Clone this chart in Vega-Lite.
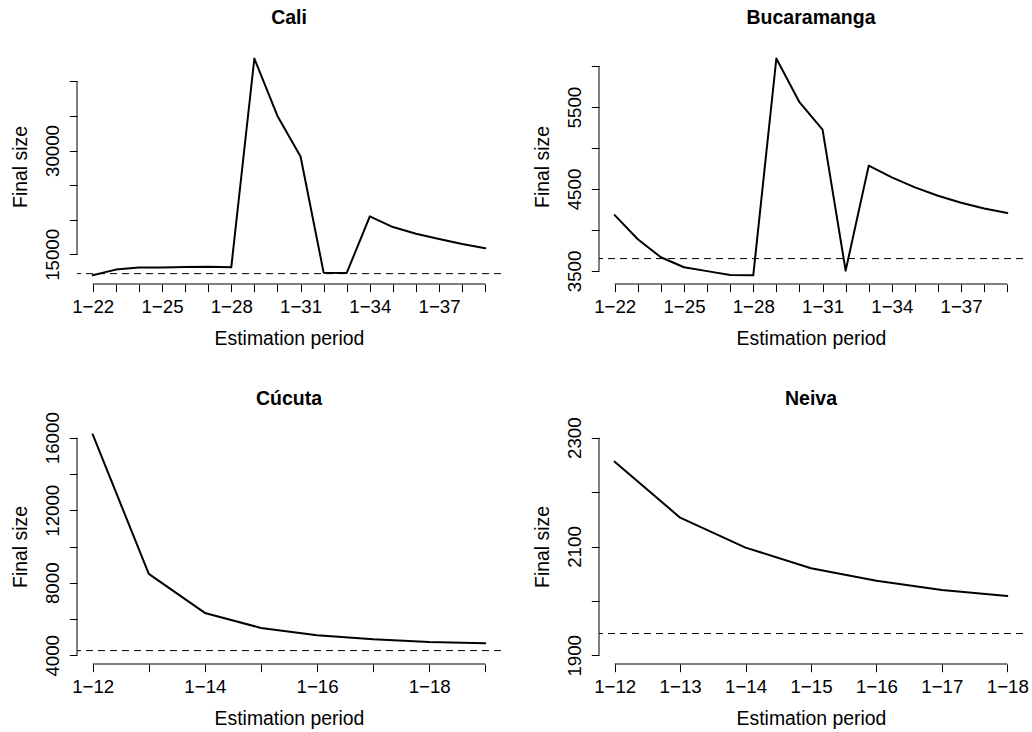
{
  "$schema": "https://vega.github.io/schema/vega-lite/v6.json",
  "background": "white",
  "padding": {"left": 10, "top": 7, "right": 5, "bottom": 5},
  "datasets": {
    "fits": [
      {"city": "Cali", "period": 22, "size": 11970},
      {"city": "Cali", "period": 23, "size": 12790},
      {"city": "Cali", "period": 24, "size": 13080},
      {"city": "Cali", "period": 25, "size": 13080},
      {"city": "Cali", "period": 26, "size": 13170},
      {"city": "Cali", "period": 27, "size": 13220},
      {"city": "Cali", "period": 28, "size": 13125},
      {"city": "Cali", "period": 29, "size": 43300},
      {"city": "Cali", "period": 30, "size": 35000},
      {"city": "Cali", "period": 31, "size": 29135},
      {"city": "Cali", "period": 32, "size": 12355},
      {"city": "Cali", "period": 33, "size": 12310},
      {"city": "Cali", "period": 34, "size": 20480},
      {"city": "Cali", "period": 35, "size": 18940},
      {"city": "Cali", "period": 36, "size": 17980},
      {"city": "Cali", "period": 37, "size": 17210},
      {"city": "Cali", "period": 38, "size": 16490},
      {"city": "Cali", "period": 39, "size": 15865},
      {"city": "Bucaramanga", "period": 22, "size": 4181},
      {"city": "Bucaramanga", "period": 23, "size": 3887},
      {"city": "Bucaramanga", "period": 24, "size": 3667},
      {"city": "Bucaramanga", "period": 25, "size": 3545},
      {"city": "Bucaramanga", "period": 26, "size": 3498},
      {"city": "Bucaramanga", "period": 27, "size": 3451},
      {"city": "Bucaramanga", "period": 28, "size": 3447},
      {"city": "Bucaramanga", "period": 29, "size": 6092},
      {"city": "Bucaramanga", "period": 30, "size": 5559},
      {"city": "Bucaramanga", "period": 31, "size": 5225},
      {"city": "Bucaramanga", "period": 32, "size": 3504},
      {"city": "Bucaramanga", "period": 33, "size": 4785},
      {"city": "Bucaramanga", "period": 34, "size": 4642},
      {"city": "Bucaramanga", "period": 35, "size": 4520},
      {"city": "Bucaramanga", "period": 36, "size": 4418},
      {"city": "Bucaramanga", "period": 37, "size": 4332},
      {"city": "Bucaramanga", "period": 38, "size": 4263},
      {"city": "Bucaramanga", "period": 39, "size": 4206},
      {"city": "Cúcuta", "period": 12, "size": 16181},
      {"city": "Cúcuta", "period": 13, "size": 8490},
      {"city": "Cúcuta", "period": 14, "size": 6337},
      {"city": "Cúcuta", "period": 15, "size": 5509},
      {"city": "Cúcuta", "period": 16, "size": 5104},
      {"city": "Cúcuta", "period": 17, "size": 4883},
      {"city": "Cúcuta", "period": 18, "size": 4736},
      {"city": "Cúcuta", "period": 19, "size": 4662},
      {"city": "Neiva", "period": 12, "size": 2256},
      {"city": "Neiva", "period": 13, "size": 2153},
      {"city": "Neiva", "period": 14, "size": 2098},
      {"city": "Neiva", "period": 15, "size": 2060},
      {"city": "Neiva", "period": 16, "size": 2037},
      {"city": "Neiva", "period": 17, "size": 2020},
      {"city": "Neiva", "period": 18, "size": 2009}
    ],
    "truth": [
      {"city": "Cali", "value": 12210},
      {"city": "Bucaramanga", "value": 3651},
      {"city": "Cúcuta", "value": 4258},
      {"city": "Neiva", "value": 1940}
    ]
  },
  "columns": 2,
  "bounds": "flush",
  "spacing": {"row": 145, "column": 98},
  "concat": [
    {
      "title": {"text": "Cali", "offset": 20.8},
      "width": 424, "height": 235,
      "layer": [
        {
          "data": {"name": "fits"},
          "transform": [{"filter": "datum.city == 'Cali'"}],
          "mark": {"type": "line", "color": "black", "strokeWidth": 2, "strokeJoin": "round", "strokeCap": "round"},
          "encoding": {
            "x": {"field": "period", "type": "quantitative", "title": "Estimation period",
                  "scale": {"domain": [21.32, 39.68], "nice": false, "zero": false},
                  "axis": {"values": [22,23,24,25,26,27,28,29,30,31,32,33,34,35,36,37,38,39], "tickCount": 100,
                           "labelExpr": "indexof([22,25,28,31,34,37], datum.value) >= 0 ? '1−' + datum.value : ''",
                           "labelOverlap": false,
                           "labelAngle": 0, "labelAlign": "center", "labelBaseline": "alphabetic"}},
            "y": {"field": "size", "type": "quantitative", "title": "Final size",
                  "scale": {"domain": [10712, 44673], "nice": false, "zero": false},
                  "axis": {"values": [15000,20000,25000,30000,35000,40000], "tickCount": 100,
                           "labelExpr": "datum.value == 15000 || datum.value == 30000 ? '' + datum.value : ''",
                           "labelOverlap": false,
                           "labelAngle": -90, "labelAlign": "center", "labelBaseline": "alphabetic"}}
          }
        },
        {
          "data": {"name": "truth"},
          "transform": [{"filter": "datum.city == 'Cali'"}],
          "mark": {"type": "rule", "color": "black", "strokeWidth": 1, "strokeDash": [7, 5]},
          "encoding": {"y": {"field": "value", "type": "quantitative", "title": "Final size"}}
        },
        {
          "data": {"values": [{}]},
          "mark": {"type": "rule", "color": "black", "strokeWidth": 1},
          "encoding": {"x": {"datum": 22}, "x2": {"datum": 39}, "y": {"datum": 10712}}
        },
        {
          "data": {"values": [{}]},
          "mark": {"type": "rule", "color": "black", "strokeWidth": 1},
          "encoding": {"x": {"datum": 21.32}, "y": {"datum": 15000}, "y2": {"datum": 40000}}
        }
      ]
    },
    {
      "title": {"text": "Bucaramanga", "offset": 20.8},
      "width": 424, "height": 235,
      "layer": [
        {
          "data": {"name": "fits"},
          "transform": [{"filter": "datum.city == 'Bucaramanga'"}],
          "mark": {"type": "line", "color": "black", "strokeWidth": 2, "strokeJoin": "round", "strokeCap": "round"},
          "encoding": {
            "x": {"field": "period", "type": "quantitative", "title": "Estimation period",
                  "scale": {"domain": [21.32, 39.68], "nice": false, "zero": false},
                  "axis": {"values": [22,23,24,25,26,27,28,29,30,31,32,33,34,35,36,37,38,39], "tickCount": 100,
                           "labelExpr": "indexof([22,25,28,31,34,37], datum.value) >= 0 ? '1−' + datum.value : ''",
                           "labelOverlap": false,
                           "labelAngle": 0, "labelAlign": "center", "labelBaseline": "alphabetic"}},
            "y": {"field": "size", "type": "quantitative", "title": "Final size",
                  "scale": {"domain": [3341, 6208], "nice": false, "zero": false},
                  "axis": {"values": [3500,4000,4500,5000,5500,6000], "tickCount": 100,
                           "labelExpr": "datum.value % 1000 == 500 ? '' + datum.value : ''",
                           "labelOverlap": false,
                           "labelAngle": -90, "labelAlign": "center", "labelBaseline": "alphabetic"}}
          }
        },
        {
          "data": {"name": "truth"},
          "transform": [{"filter": "datum.city == 'Bucaramanga'"}],
          "mark": {"type": "rule", "color": "black", "strokeWidth": 1, "strokeDash": [7, 5]},
          "encoding": {"y": {"field": "value", "type": "quantitative", "title": "Final size"}}
        },
        {
          "data": {"values": [{}]},
          "mark": {"type": "rule", "color": "black", "strokeWidth": 1},
          "encoding": {"x": {"datum": 22}, "x2": {"datum": 39}, "y": {"datum": 3341}}
        },
        {
          "data": {"values": [{}]},
          "mark": {"type": "rule", "color": "black", "strokeWidth": 1},
          "encoding": {"x": {"datum": 21.32}, "y": {"datum": 3500}, "y2": {"datum": 6000}}
        }
      ]
    },
    {
      "title": {"text": "Cúcuta", "offset": 2.5},
      "width": 424, "height": 235,
      "layer": [
        {
          "data": {"name": "fits"},
          "transform": [{"filter": "datum.city == 'Cúcuta'"}],
          "mark": {"type": "line", "color": "black", "strokeWidth": 2, "strokeJoin": "round", "strokeCap": "round"},
          "encoding": {
            "x": {"field": "period", "type": "quantitative", "title": "Estimation period",
                  "scale": {"domain": [11.72, 19.28], "nice": false, "zero": false},
                  "axis": {"values": [12,13,14,15,16,17,18,19], "tickCount": 100,
                           "labelExpr": "datum.value % 2 == 0 ? '1−' + datum.value : ''",
                           "labelOverlap": false,
                           "labelAngle": 0, "labelAlign": "center", "labelBaseline": "alphabetic"}},
            "y": {"field": "size", "type": "quantitative", "title": "Final size",
                  "scale": {"domain": [3520, 16480], "nice": false, "zero": false},
                  "axis": {"values": [4000,6000,8000,10000,12000,14000,16000], "tickCount": 100,
                           "labelExpr": "datum.value % 4000 == 0 ? '' + datum.value : ''",
                           "labelOverlap": false,
                           "labelAngle": -90, "labelAlign": "center", "labelBaseline": "alphabetic"}}
          }
        },
        {
          "data": {"name": "truth"},
          "transform": [{"filter": "datum.city == 'Cúcuta'"}],
          "mark": {"type": "rule", "color": "black", "strokeWidth": 1, "strokeDash": [7, 5]},
          "encoding": {"y": {"field": "value", "type": "quantitative", "title": "Final size"}}
        },
        {
          "data": {"values": [{}]},
          "mark": {"type": "rule", "color": "black", "strokeWidth": 1},
          "encoding": {"x": {"datum": 12}, "x2": {"datum": 19}, "y": {"datum": 3520}}
        },
        {
          "data": {"values": [{}]},
          "mark": {"type": "rule", "color": "black", "strokeWidth": 1},
          "encoding": {"x": {"datum": 11.72}, "y": {"datum": 4000}, "y2": {"datum": 16000}}
        }
      ]
    },
    {
      "title": {"text": "Neiva", "offset": 7.7},
      "width": 424, "height": 235,
      "layer": [
        {
          "data": {"name": "fits"},
          "transform": [{"filter": "datum.city == 'Neiva'"}],
          "mark": {"type": "line", "color": "black", "strokeWidth": 2, "strokeJoin": "round", "strokeCap": "round"},
          "encoding": {
            "x": {"field": "period", "type": "quantitative", "title": "Estimation period",
                  "scale": {"domain": [11.76, 18.24], "nice": false, "zero": false},
                  "axis": {"values": [12,13,14,15,16,17,18], "tickCount": 100,
                           "labelExpr": "'1−' + datum.value",
                           "labelOverlap": false,
                           "labelAngle": 0, "labelAlign": "center", "labelBaseline": "alphabetic"}},
            "y": {"field": "size", "type": "quantitative", "title": "Final size",
                  "scale": {"domain": [1884, 2316], "nice": false, "zero": false},
                  "axis": {"values": [1900,2000,2100,2200,2300], "tickCount": 100,
                           "labelExpr": "datum.value % 200 == 100 ? '' + datum.value : ''",
                           "labelOverlap": false,
                           "labelAngle": -90, "labelAlign": "center", "labelBaseline": "alphabetic"}}
          }
        },
        {
          "data": {"name": "truth"},
          "transform": [{"filter": "datum.city == 'Neiva'"}],
          "mark": {"type": "rule", "color": "black", "strokeWidth": 1, "strokeDash": [7, 5]},
          "encoding": {"y": {"field": "value", "type": "quantitative", "title": "Final size"}}
        },
        {
          "data": {"values": [{}]},
          "mark": {"type": "rule", "color": "black", "strokeWidth": 1},
          "encoding": {"x": {"datum": 12}, "x2": {"datum": 18}, "y": {"datum": 1884}}
        },
        {
          "data": {"values": [{}]},
          "mark": {"type": "rule", "color": "black", "strokeWidth": 1},
          "encoding": {"x": {"datum": 11.76}, "y": {"datum": 1900}, "y2": {"datum": 2300}}
        }
      ]
    }
  ],
  "config": {
    "view": {"stroke": null},
    "font": "Liberation Sans",
    "axis": {
      "domain": false, "grid": false, "ticks": true, "tickSize": 7.7, "tickColor": "black", "tickWidth": 1,
      "labelFont": "Liberation Sans", "labelFontSize": 18.7, "labelColor": "black",
      "labelFlush": false,
      "titleFont": "Liberation Sans", "titleFontSize": 19.4, "titleFontWeight": "normal", "titleColor": "black",
      "titleBaseline": "alphabetic"
    },
    "axisX": {"labelPadding": 20.3, "minExtent": 35, "maxExtent": 35, "titlePadding": 25.5},
    "axisY": {"labelPadding": 11.1, "minExtent": 35, "maxExtent": 35, "titlePadding": 15.3},
    "title": {"font": "Liberation Sans", "fontSize": 19.5, "fontWeight": "bold", "color": "black",
              "baseline": "alphabetic", "frame": "group", "anchor": "middle"}
  }
}
